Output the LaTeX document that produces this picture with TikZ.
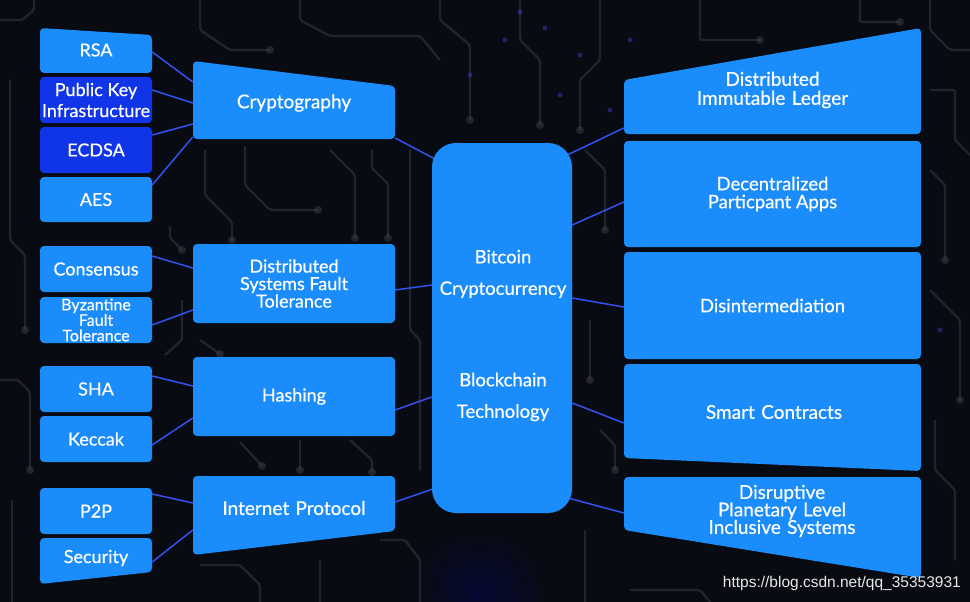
\documentclass[tikz,border=0pt]{standalone}
\usepackage{fontspec}
\setmainfont{Lato}[FakeBold=0.5]
\newfontfamily\markfont{Liberation Sans}
\usepackage{tikz}
\usetikzlibrary{
  positioning,
  calc,
  backgrounds
}
\definecolor{bgdark}{RGB}{8,11,18}
\definecolor{panelblue}{RGB}{26,140,252}
\definecolor{paneldeep}{RGB}{16,52,232}
\definecolor{linkblue}{RGB}{50,82,240}
\definecolor{tracegray}{RGB}{62,68,80}
\tikzset{
  panel/.style={fill=panelblue, rounded corners=4pt},
  boxtext/.style={text=white, align=center, inner xsep=0pt, inner ysep=1pt},
  leafbox/.style={panel, boxtext, minimum width=112pt, minimum height=46pt,
    font=\fontsize{18}{21}\selectfont},
  leaflbl/.style={boxtext, text width=112pt, font=\fontsize{18}{21}\selectfont},
  midbox/.style={panel, boxtext, minimum width=202pt, minimum height=79pt,
    font=\fontsize{18}{17.5}\selectfont},
  midlbl/.style={boxtext, text width=202pt, font=\fontsize{19}{16}\selectfont},
  sidebox/.style={panel, boxtext, minimum width=297pt, minimum height=106pt,
    font=\fontsize{18.5}{18}\selectfont},
  sidelbl/.style={boxtext, text width=297pt, font=\fontsize{19}{17.5}\selectfont},
  link/.style={draw=linkblue, line width=1.5pt},
  trace/.style={draw=tracegray, line width=2.4pt, opacity=0.45, rounded corners=2pt},
  pad/.style={fill=tracegray, opacity=0.45}
}

\begin{document}
\begin{tikzpicture}[x=1pt,y=-1pt]
  \useasboundingbox (0,0) rectangle (970,602);

  % left column
  \fill[panel] (40,28) -- (152,35) -- (152,73) -- (40,73) -- cycle;
  \node[leaflbl] (rsa) at (96,50) {RSA};
  \node[leafbox, fill=paneldeep] (pki) at (96,100) {Public Key\\Infrastructure};
  \node[leafbox, fill=paneldeep] (ecdsa) at (96,150) {ECDSA};
  \node[leafbox, minimum height=45pt] (aes) at (96,199.5) {AES};
  \node[leafbox] (cons) at (96,269) {Consensus};
  \node[leafbox, font=\fontsize{16}{15.5}\selectfont] (byz) at (96,320)
    {Byzantine\\Fault\\Tolerance};
  \node[leafbox] (sha) at (96,389) {SHA};
  \node[leafbox] (keccak) at (96,439) {Keccak};
  \node[leafbox] (p2p) at (96,511) {P2P};
  \fill[panel] (40,538) -- (152,538) -- (152,572) -- (40,584) -- cycle;
  \node[leaflbl] (sec) at (96,558) {Security};

  % middle column
  \fill[panel] (193,61) -- (395,86) -- (395,139) -- (193,139) -- cycle;
  \node[midlbl] (crypto) at (294,103) {Cryptography};
  \node[midbox] (dsft) at (294,283.5) {Distributed\\Systems Fault\\Tolerance};
  \node[midbox] (hash) at (294,396.5) {Hashing};
  \fill[panel] (193,476) -- (395,476) -- (395,531) -- (193,555) -- cycle;
  \node[midlbl] (inet) at (294,508) {Internet Protocol};

  % centre
  \node[panel, rounded corners=24pt, minimum width=140pt, minimum height=370pt]
    (core) at (502,328) {};
  \node[boxtext, font=\fontsize{18.5}{31.5}\selectfont] (coretxt) at (503,335.5)
    {Bitcoin\\Cryptocurrency\\[60pt]Blockchain\\Technology};

  % right column
  \fill[panel] (624,80) -- (921,28) -- (921,134) -- (624,134) -- cycle;
  \node[sidelbl, font=\fontsize{19}{19}\selectfont] (ledger) at (772.5,90)
    {Distributed\\Immutable Ledger};
  \node[sidebox] (dapps) at (772.5,194) {Decentralized\\Particpant Apps};
  \node[sidebox, minimum height=107pt] (disint) at (772.5,305.5) {Disintermediation};
  \fill[panel] (624,364) -- (921,364) -- (921,471) -- (624,458) -- cycle;
  \node[sidelbl] (smart) at (774,412) {Smart Contracts};
  \fill[panel] (624,477) -- (921,477) -- (921,578) -- (624,530) -- cycle;
  \node[sidelbl] (disrupt) at (782,511)
    {Disruptive\\Planetary Level\\Inclusive Systems};

  \node[font=\fontsize{15.5}{17}\selectfont\markfont, text=white!82!gray, anchor=east,
    inner sep=0pt] (mark) at (961,583) {https://blog.csdn.net/qq\_35353931};

  \begin{scope}[on background layer]
    \fill[bgdark] (0,0) rectangle (970,602);
    \shade[inner color=blue!20!bgdark, outer color=bgdark, opacity=0.7]
      (480,596) circle (70);
    % circuit traces
    \draw[trace] (205,150) -- (205,195) -- (232,222) -- (232,240);
    \draw[trace] (245,146) -- (245,185) -- (270,210) -- (318,210);
    \draw[trace] (330,150) -- (355,175) -- (355,238);
    \draw[trace] (372,150) -- (372,168) -- (388,184) -- (388,238);
    \draw[trace] (410,150) -- (410,330) -- (420,340) -- (420,470);
    \draw[trace] (170,226) -- (170,238) -- (182,250);
    \draw[trace] (165,355) -- (182,340) -- (182,300);
    \draw[trace] (200,340) -- (220,354);
    \draw[trace] (240,442) -- (262,466);
    \draw[trace] (300,440) -- (300,470);
    \draw[trace] (350,440) -- (372,460) -- (372,472);
    \draw[trace] (200,565) -- (240,565) -- (260,585) -- (260,602);
    \draw[trace] (320,560) -- (320,602);
    \draw[trace] (380,540) -- (405,540) -- (420,560) -- (420,602);
    \draw[trace] (10,80) -- (10,240) -- (25,255) -- (25,330);
    \draw[trace] (0,380) -- (18,380) -- (30,392) -- (30,470);
    \draw[trace] (12,500) -- (12,602);
    \draw[trace] (0,20) -- (22,20) -- (34,10) -- (34,0);
    \draw[trace] (200,0) -- (200,30) -- (230,50) -- (270,50);
    \draw[trace] (300,0) -- (300,20) -- (330,36) -- (420,36) -- (440,60);
    \draw[trace] (440,0) -- (440,20) -- (470,45) -- (470,120);
    \draw[trace] (520,0) -- (520,40) -- (540,60) -- (540,125);
    \draw[trace] (600,0) -- (600,60) -- (580,80) -- (580,130);
    \draw[trace] (700,0) -- (700,40) -- (760,40);
    \draw[trace] (860,0) -- (860,22) -- (900,22);
    \draw[trace] (930,0) -- (930,30) -- (950,50) -- (970,50);
    \draw[trace] (930,90) -- (955,90) -- (955,140) -- (970,155);
    \draw[trace] (930,170) -- (945,185) -- (945,260);
    \draw[trace] (930,290) -- (960,320) -- (960,400);
    \draw[trace] (935,420) -- (935,470) -- (955,490) -- (955,560);
    \draw[trace] (585,150) -- (605,170) -- (605,230);
    \draw[trace] (590,320) -- (590,380);
    \draw[trace] (600,430) -- (615,445) -- (615,470);
    \draw[trace] (585,530) -- (585,602);
    \draw[trace] (630,590) -- (700,590) -- (710,602);
    \foreach \px/\py in {232/240, 318/210, 355/238, 388/238, 182/250, 220/354,
        262/466, 300/470, 372/472, 25/330, 30/470, 270/50, 470/120, 540/125,
        580/130, 760/40, 900/22, 945/260, 960/400, 605/230, 590/380, 615/470}
      \fill[pad] (\px,\py) circle (4);
    \foreach \px/\py in {505/40, 545/28, 470/75, 560/95, 610/110, 50/395,
        520/12, 580/55, 630/40, 940/330}
      \fill[blue!70!white, opacity=0.35] (\px,\py) circle (2.5);
    % links
    \draw[link] ([yshift=-2pt]rsa.east) -- ([yshift=21pt]crypto.west);
    \draw[link] ([yshift=10pt]pki.east) -- (crypto.west);
    \draw[link] ([yshift=15pt]ecdsa.east) -- ([yshift=-21pt]crypto.west);
    \draw[link] ([yshift=14.5pt]aes.east) -- ([yshift=-34pt]crypto.west);
    \draw[link] ([yshift=13pt]cons.east) -- ([yshift=15.5pt]dsft.west);
    \draw[link] ([yshift=-5pt]byz.east) -- ([yshift=-26.5pt]dsft.west);
    \draw[link] ([yshift=13pt]sha.east) -- ([yshift=10.5pt]hash.west);
    \draw[link] ([yshift=-6pt]keccak.east) -- ([yshift=-21.5pt]hash.west);
    \draw[link] ([yshift=17pt]p2p.east) -- ([yshift=5pt]inet.west);
    \draw[link] ([yshift=-4pt]sec.east) -- ([yshift=-22pt]inet.west);
    \draw[link] ([yshift=-35pt]crypto.east) -- ([xshift=5pt,yshift=168pt]core.west);
    \draw[link] ([yshift=-6.5pt]dsft.east) -- ([yshift=43pt]core.west);
    \draw[link] ([yshift=-13.5pt]hash.east) -- ([yshift=-69pt]core.west);
    \draw[link] ([yshift=6pt]inet.east) -- ([xshift=4pt,yshift=-160pt]core.west);
    \draw[link] ([xshift=-5pt,yshift=173pt]core.east) -- ([yshift=-38pt]ledger.west);
    \draw[link] ([yshift=103pt]core.east) -- ([yshift=-8pt]dapps.west);
    \draw[link] ([yshift=30pt]core.east) -- ([yshift=-1.5pt]disint.west);
    \draw[link] ([yshift=-75pt]core.east) -- ([xshift=-1.5pt,yshift=-11pt]smart.west);
    \draw[link] ([xshift=-4pt,yshift=-170pt]core.east) -- ([xshift=-9.5pt,yshift=-2pt]disrupt.west);
  \end{scope}
\end{tikzpicture}
\end{document}
